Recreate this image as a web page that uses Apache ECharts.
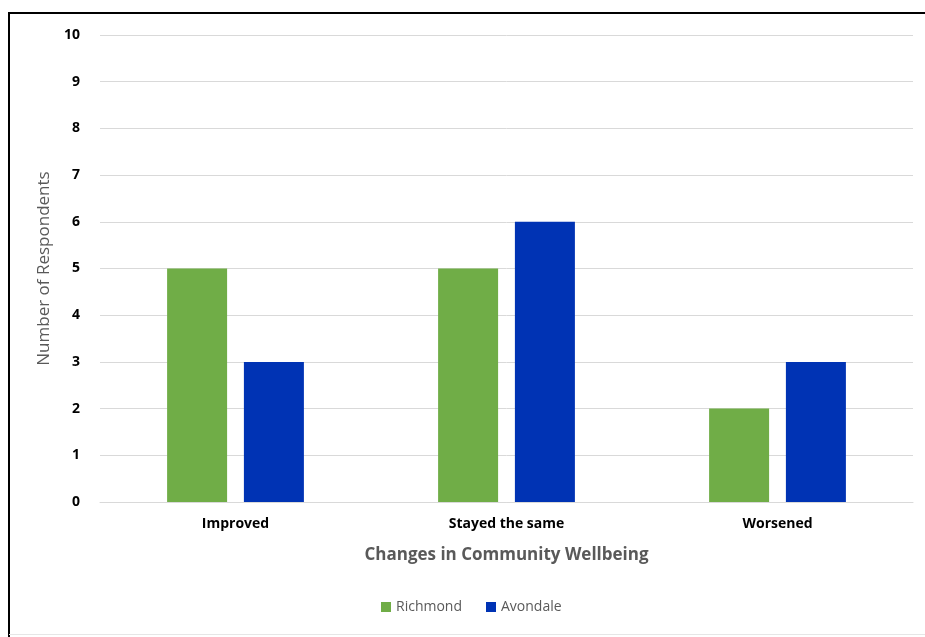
<!DOCTYPE html>
<html>
<head>
<meta charset="utf-8">
<script src="https://cdn.jsdelivr.net/npm/echarts@6/dist/echarts.min.js"></script>
<style>
  html, body { margin: 0; padding: 0; background: #fff; }
  #chart { width: 925px; height: 637px; }
</style>
</head>
<body>
<div id="chart"></div>
<script>
// Survey responses on how community wellbeing has changed
const categories = ['Improved', 'Stayed the same', 'Worsened'];
const richmond = [5, 5, 2];
const avondale = [3, 6, 3];
const yTicks = { min: 0, max: 10, interval: 1 };

const font = '"Open Sans", "Liberation Sans", sans-serif';
const chart = echarts.init(document.getElementById('chart'));

chart.setOption({
  backgroundColor: '#ffffff',
  animation: false,
  textStyle: { fontFamily: font },
  graphic: [
    { type: 'line', shape: { x1: 8, y1: 13, x2: 925, y2: 13 }, style: { stroke: '#000', lineWidth: 2 } },
    { type: 'line', shape: { x1: 9, y1: 12, x2: 9, y2: 637 }, style: { stroke: '#000', lineWidth: 2 } },
    { type: 'line', shape: { x1: 9, y1: 634.5, x2: 925, y2: 634.5 }, style: { stroke: '#e6e6e6', lineWidth: 1 } }
  ],
  grid: { left: 100, right: 12, top: 35, bottom: 135, containLabel: false },
  legend: {
    bottom: 18,
    left: 376,
    itemWidth: 10,
    itemHeight: 10,
    itemGap: 24,
    icon: 'rect',
    textStyle: { color: '#595959', fontSize: 14, fontFamily: font },
    data: ['Richmond', 'Avondale']
  },
  xAxis: {
    type: 'category',
    data: categories,
    name: 'Changes in Community Wellbeing',
    nameLocation: 'middle',
    nameGap: 45,
    nameTextStyle: { color: '#595959', fontSize: 17, fontWeight: 'bold', fontFamily: font },
    axisLine: { lineStyle: { color: '#d9d9d9', width: 1 } },
    axisTick: { show: false },
    axisLabel: { color: '#000', fontSize: 14, fontWeight: 'bold', margin: 15, fontFamily: font }
  },
  yAxis: {
    type: 'value',
    min: yTicks.min,
    max: yTicks.max,
    interval: yTicks.interval,
    name: 'Number of Respondents',
    nameLocation: 'middle',
    nameGap: 47,
    nameTextStyle: { color: '#595959', fontSize: 17, fontFamily: font },
    axisLine: { show: false },
    axisTick: { show: false },
    axisLabel: { color: '#000', fontSize: 14, fontWeight: 'bold', margin: 20, fontFamily: font },
    splitLine: { lineStyle: { color: '#d9d9d9', width: 1 } }
  },
  series: [
    {
      name: 'Richmond',
      type: 'bar',
      data: richmond,
      barWidth: 60,
      barGap: '28%',
      itemStyle: { color: '#70ad47' }
    },
    {
      name: 'Avondale',
      type: 'bar',
      data: avondale,
      barWidth: 60,
      barGap: '28%',
      itemStyle: { color: '#0033b4' }
    }
  ]
});
</script>
</body>
</html>
